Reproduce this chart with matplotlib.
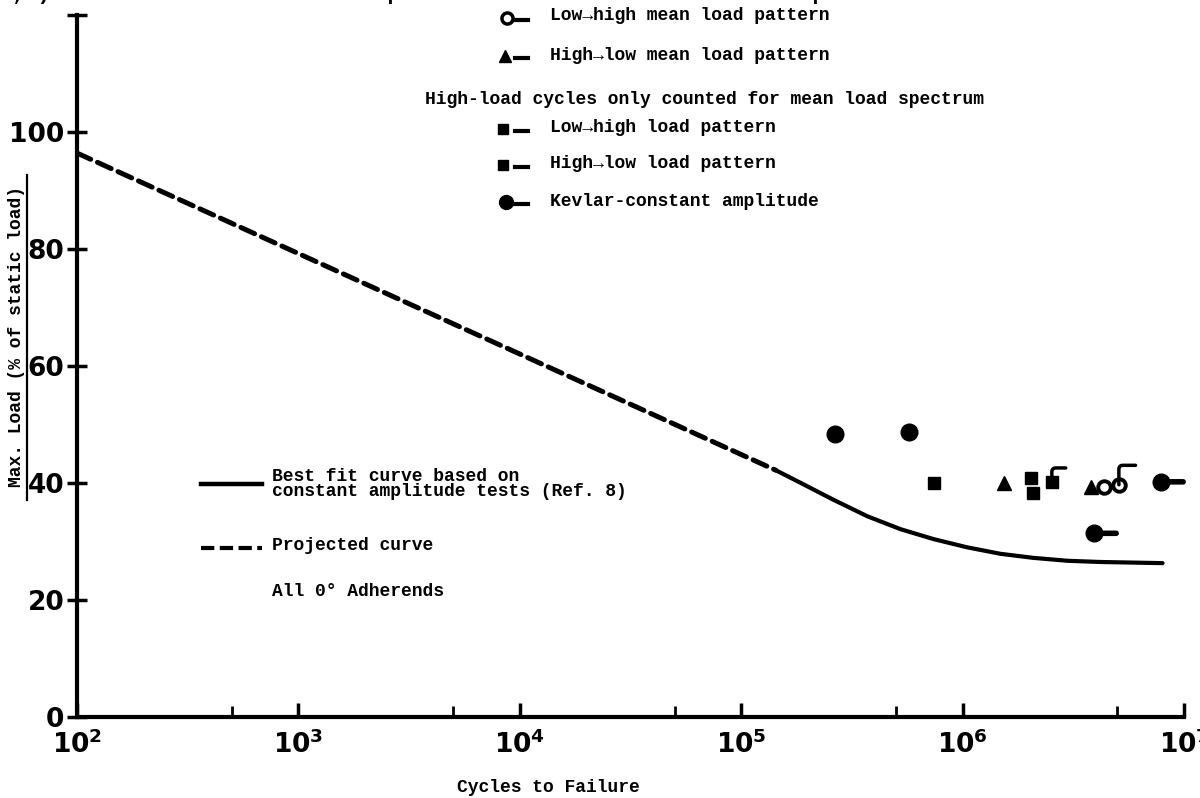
import matplotlib
matplotlib.use("Agg")
import matplotlib.pyplot as plt
from matplotlib.lines import Line2D
from matplotlib.ticker import FixedLocator, NullFormatter

# ---------------- data ----------------
proj_N = [1e2, 1.43e5]
proj_load = [96.4, 42.2]

fit_N = [1.43e5, 1.86e5, 2.62e5, 3.72e5, 5.25e5, 7.41e5, 1.05e6, 1.48e6,
         2.09e6, 2.99e6, 4.17e6, 8.0e6]
fit_load = [42.2, 40.0, 37.1, 34.3, 32.1, 30.4, 29.0, 27.9, 27.2, 26.7, 26.5, 26.3]

mean_lowhigh_N = [4.35e6, 5.08e6]
mean_lowhigh_load = [39.3, 39.7]
mean_lowhigh_runout = [False, True]

mean_highlow_N = [1.54e6, 3.8e6]
mean_highlow_load = [40.0, 39.3]

load_lowhigh_N = [7.4e5, 2.03e6]
load_lowhigh_load = [40.0, 40.9]

load_highlow_N = [2.09e6, 2.53e6]
load_highlow_load = [38.3, 40.2]
load_highlow_runout = [False, True]

kevlar_N = [2.64e5, 5.71e5, 3.92e6, 7.87e6]
kevlar_load = [48.4, 48.7, 31.4, 40.2]
kevlar_runout = [False, False, True, True]

y_ticks = [0, 20, 40, 60, 80, 100, 120]
y_ticklabels = ["0", "20", "40", "60", "80", "100", ""]
x_ticks = [1e2, 1e3, 1e4, 1e5, 1e6, 1e7]
x_ticklabels = [r"$10^{2}$", r"$10^{3}$", r"$10^{4}$", r"$10^{5}$", r"$10^{6}$", r"$10^{7}$"]
x_minor = [5e2, 5e3, 5e4, 5e5, 5e6]

# ---------------- figure ----------------
W, H = 1200, 798
plt.rcParams["mathtext.default"] = "bf"
fig = plt.figure(figsize=(W / 100, H / 100), dpi=100)
ax = fig.add_axes([77 / W, 1 - 717 / H, (1184 - 77) / W, (717 - 15) / H])

MONO = ["Liberation Mono", "DejaVu Sans Mono"]
FS = 13


def P(x, y):
    return (x / W, 1 - y / H)


ax.plot(proj_N, proj_load, color="black", lw=3.6, dashes=(3.0, 1.5),
        solid_capstyle="round", dash_capstyle="round")
ax.plot(fit_N, fit_load, color="black", lw=3.0, solid_capstyle="round")

ax.plot(mean_lowhigh_N, mean_lowhigh_load, "o", ms=9, mfc="white", mec="black", mew=2.8)
ax.plot(mean_highlow_N, mean_highlow_load, "^", ms=10, color="black")
ax.plot(load_lowhigh_N, load_lowhigh_load, "s", ms=9, color="black")
ax.plot(load_highlow_N, load_highlow_load, "s", ms=9, color="black")
ax.plot(kevlar_N, kevlar_load, "o", ms=12, color="black")


def flag(x, y, sx, sy):
    # hooked runout flag
    ax.annotate("", xy=(x, y), xytext=(sx, sy), textcoords="offset points",
                arrowprops=dict(arrowstyle="-", lw=2.5, color="black",
                                connectionstyle="angle,angleA=0,angleB=90,rad=4",
                                shrinkA=0, shrinkB=0))


for n, l, r in zip(mean_lowhigh_N, mean_lowhigh_load, mean_lowhigh_runout):
    if r:
        flag(n, l, 12, 14)
for n, l, r in zip(load_highlow_N, load_highlow_load, load_highlow_runout):
    if r:
        flag(n, l, 10, 10)
for n, l, r in zip(kevlar_N, kevlar_load, kevlar_runout):
    if r:
        ax.annotate("", xy=(n, l), xytext=(16, 0), textcoords="offset points",
                    arrowprops=dict(arrowstyle="-", lw=4, color="black",
                                    shrinkA=0, shrinkB=0))

ax.set_xscale("log")
ax.set_xlim(1e2, 1e7)
ax.set_ylim(0, 120)
for s in ("top", "right"):
    ax.spines[s].set_visible(False)
for s in ("left", "bottom"):
    ax.spines[s].set_linewidth(3)

ax.set_yticks(y_ticks)
ax.set_yticklabels(y_ticklabels)
ax.xaxis.set_major_locator(FixedLocator(x_ticks))
ax.set_xticklabels(x_ticklabels)
ax.xaxis.set_minor_locator(FixedLocator(x_minor))
ax.xaxis.set_minor_formatter(NullFormatter())
ax.tick_params(axis="y", direction="inout", length=14, width=2.5, labelsize=19, pad=2)
ax.tick_params(axis="x", which="major", direction="in", length=10, width=2.5,
               labelsize=19, pad=10)
ax.tick_params(axis="x", which="minor", direction="in", length=8, width=2)
for t in ax.get_yticklabels():
    t.set_fontweight("bold")

# axis labels
fig.text(*P(548, 787), "Cycles to Failure", family=MONO, weight="bold",
         fontsize=FS, ha="center", va="center")
fig.text(*P(17, 337), "Max. Load (% of static load)", family=MONO, weight="bold",
         fontsize=FS, ha="center", va="center", rotation=90)
fig.add_artist(Line2D([27 / W, 27 / W], [1 - 500 / H, 1 - 175 / H],
                      color="black", lw=1.6))

# header fragment (cut off at top)
fig.text(*P(0, -5), "3,2) vs. the maximum load in a per cent of static load. The data points are",
         family=MONO, weight="bold", fontsize=FS + 2, ha="left", va="center")

# top key
fig.add_artist(Line2D([507 / W], [1 - 18 / H], marker="o", ms=8, mfc="white",
                      mec="black", mew=2.5, ls="none"))
fig.add_artist(Line2D([505 / W], [1 - 56 / H], marker="^", ms=8, color="black", ls="none"))
fig.add_artist(Line2D([503 / W], [1 - 129 / H], marker="s", ms=7, color="black", ls="none"))
fig.add_artist(Line2D([503 / W], [1 - 165 / H], marker="s", ms=7, color="black", ls="none"))
fig.add_artist(Line2D([506 / W], [1 - 202 / H], marker="o", ms=10, color="black", ls="none"))
for yy in (18, 56, 129, 165, 202):
    fig.add_artist(Line2D([515 / W, 528 / W], [1 - (yy + 2) / H] * 2, color="black", lw=3))

fig.text(*P(550, 15), "Low→high mean load pattern", family=MONO, weight="bold",
         fontsize=FS, va="center")
fig.text(*P(550, 55), "High→low mean load pattern", family=MONO, weight="bold",
         fontsize=FS, va="center")
fig.text(*P(425, 99), "High-load cycles only counted for mean load spectrum", family=MONO,
         weight="bold", fontsize=FS, va="center")
fig.text(*P(550, 127), "Low→high load pattern", family=MONO, weight="bold",
         fontsize=FS, va="center")
fig.text(*P(550, 163), "High→low load pattern", family=MONO, weight="bold",
         fontsize=FS, va="center")
fig.text(*P(550, 202), "Kevlar-constant amplitude", family=MONO, weight="bold",
         fontsize=FS, va="center")

# lower-left key
fig.add_artist(Line2D([201 / W, 262 / W], [1 - 484 / H] * 2, color="black", lw=3.2))
fig.add_artist(Line2D([201 / W, 262 / W], [1 - 548 / H] * 2, color="black", lw=3,
                      dashes=(3.2, 1.3)))
fig.text(*P(272, 484), "Best fit curve based on\nconstant amplitude tests (Ref. 8)",
         family=MONO, weight="bold", fontsize=FS, va="center", linespacing=0.85)
fig.text(*P(272, 545), "Projected curve", family=MONO, weight="bold",
         fontsize=FS, va="center")
fig.text(*P(272, 592), "All 0° Adherends", family=MONO, weight="bold",
         fontsize=FS, va="center")

fig.savefig("out.png", dpi=100, facecolor="white")
